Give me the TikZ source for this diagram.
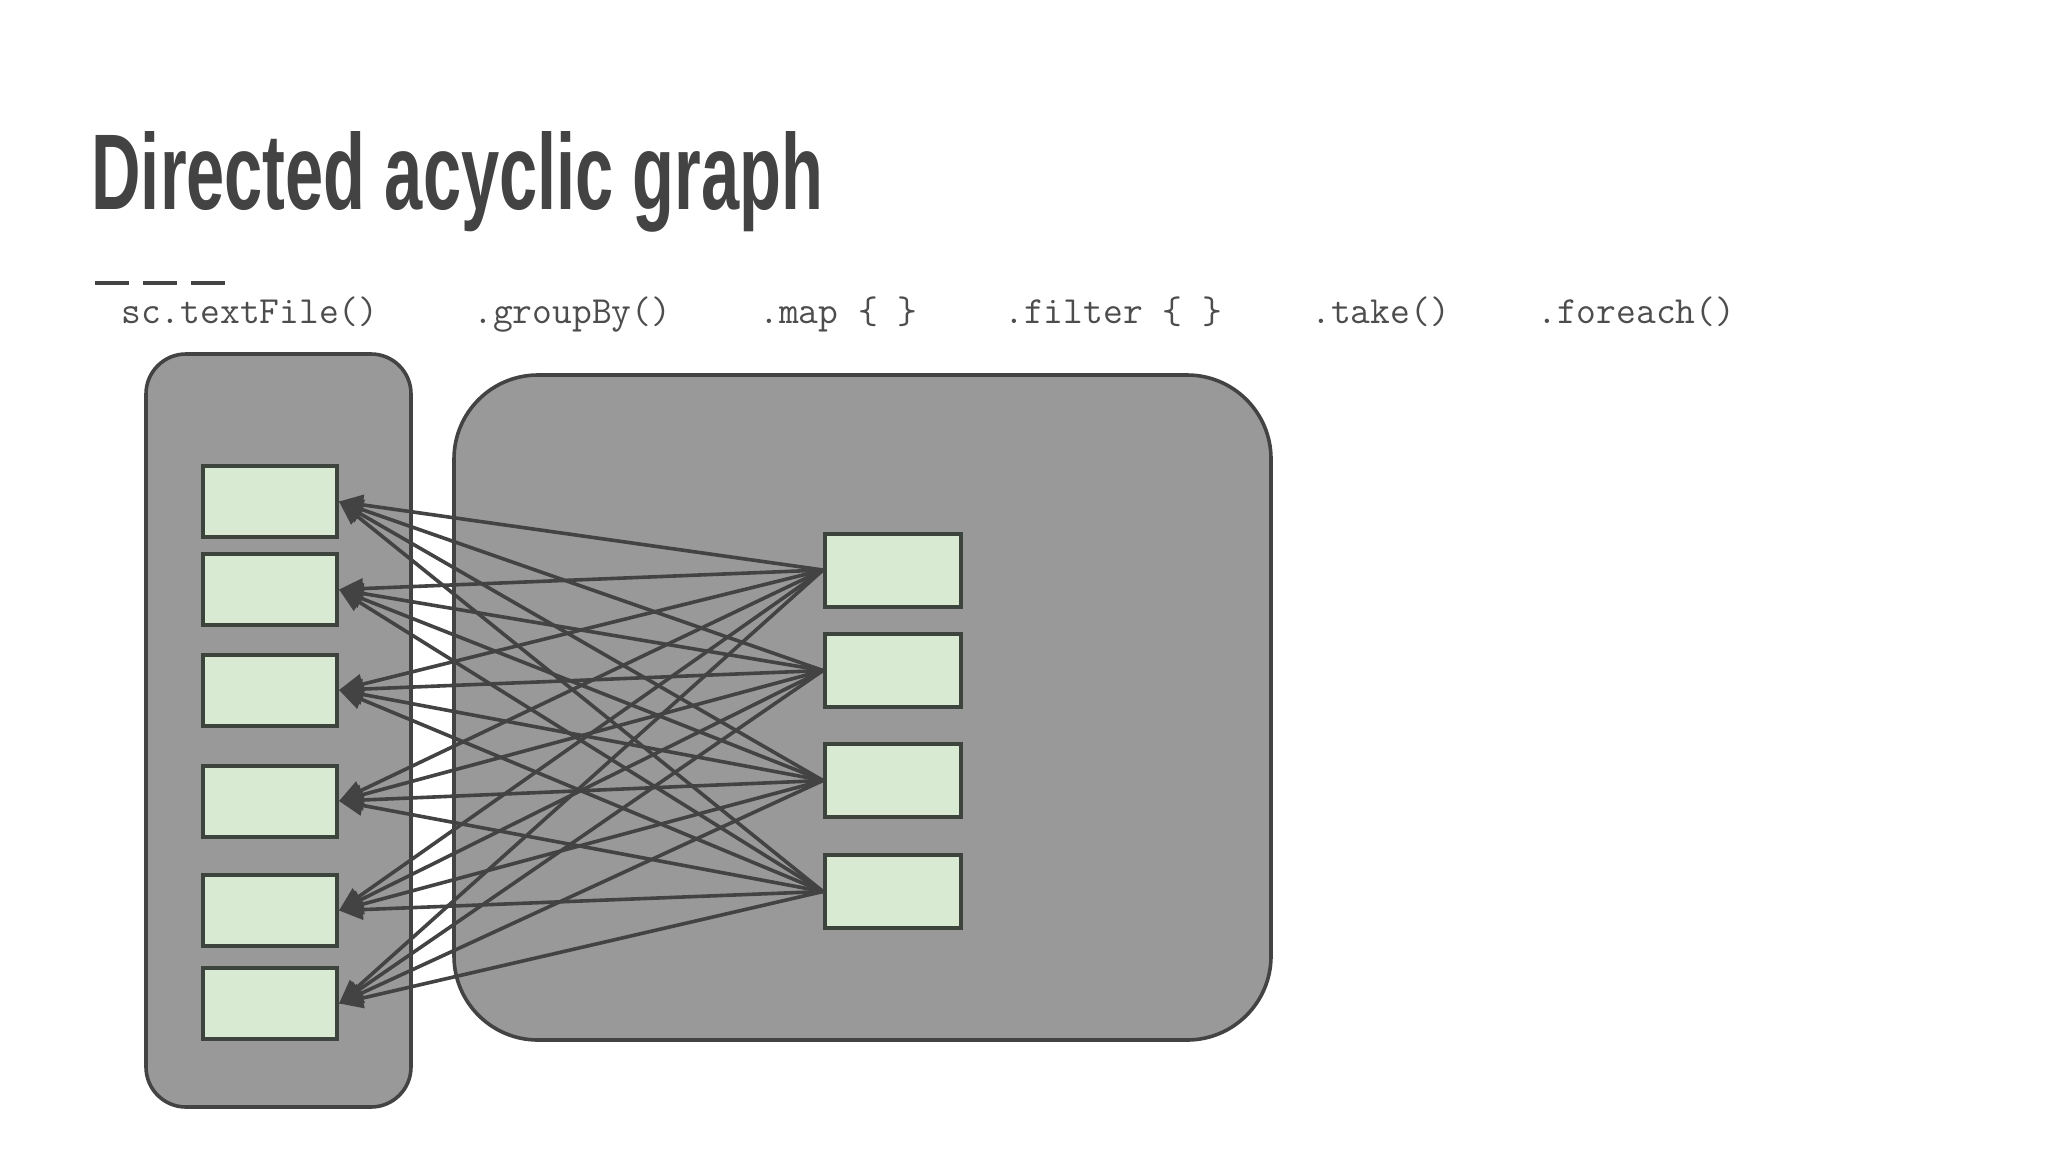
\documentclass[tikz,border=0pt]{standalone}
\usepackage{fontspec}
\setmainfont{Liberation Sans}
\usetikzlibrary{arrows.meta}
\definecolor{ink}{HTML}{434343}
\definecolor{codegray}{HTML}{4D4D4D}
\definecolor{boxgray}{HTML}{999999}
\definecolor{cellgreen}{HTML}{D9EAD3}
\definecolor{celledge}{HTML}{3D433D}
\tikzset{
  container/.style={draw=ink, fill=boxgray, line width=1.8pt, inner sep=0pt},
  cell/.style={draw=celledge, fill=cellgreen, line width=2pt, inner sep=0pt, minimum height=35.5pt},
  code/.style={anchor=base west, inner sep=0pt, text=codegray, font=\ttfamily\fontsize{19.2pt}{22pt}\selectfont},
  edge/.style={draw=ink, line width=1.8pt, {Triangle[length=12pt,width=10pt]}-},
}
\begin{document}
\begin{tikzpicture}[x=0.5pt,y=-0.5pt]
\fill[white] (0,0) rectangle (2048,1152);
\useasboundingbox (0,0) rectangle (2048,1152);

\node[anchor=base west, inner sep=0pt, text=ink] (title) at (91,209)
  {\resizebox{366pt}{39pt}{\bfseries Directed acyclic graph}};
\draw[ink, line width=2pt, dash pattern=on 17pt off 7pt] (95,283) -- (225,283);

\node[code] (l1) at (121,323) {sc.textFile()};
\node[code] (l2) at (473,323) {.groupBy()};
\node[code] (l3) at (759,323) {.map \{ \}};
\node[code] (l4) at (1004,323) {.filter \{ \}};
\node[code] (l5) at (1311,323) {.take()};
\node[code] (l6) at (1537,323) {.foreach()};

\node[container, rounded corners=20pt, minimum width=132.5pt, minimum height=376.5pt] (lbox) at (278.5,730.5) {};
\node[container, rounded corners=42pt, minimum width=408.5pt, minimum height=332.5pt] (rbox) at (862.5,707.5) {};

\foreach \n/\y in {1/501.5, 2/589.5, 3/690, 4/801, 5/910.5, 6/1003.5}
  \node[cell, minimum width=67pt] (a\n) at (270,\y) {};
\foreach \n/\y in {1/570, 2/670.5, 3/780.5, 4/891.5}
  \node[cell, minimum width=68pt, minimum height=36.5pt] (b\n) at (893,\y) {};

\foreach \i in {1,...,6}
  \foreach \j in {1,...,4}
    \draw[edge] (a\i.east) -- (b\j.west);

\foreach \n in {1,...,6} \node[cell, minimum width=67pt] at (a\n) {};
\foreach \n in {1,...,4} \node[cell, minimum width=68pt, minimum height=36.5pt] at (b\n) {};
\end{tikzpicture}
\end{document}
